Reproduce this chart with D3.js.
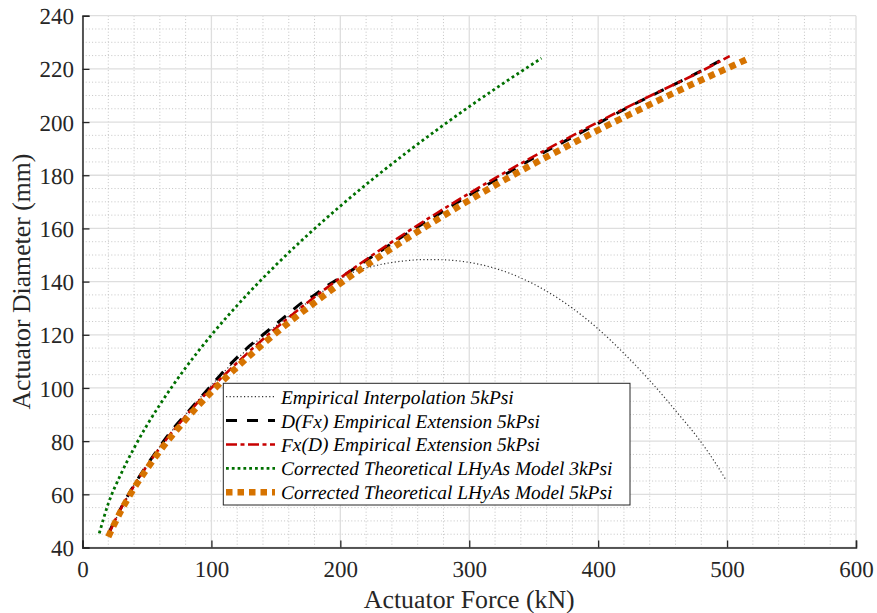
<!DOCTYPE html>
<html>
<head>
<meta charset="utf-8">
<script src="https://cdn.jsdelivr.net/npm/d3@7"></script>
<style>
  html, body { margin: 0; padding: 0; background: #fff; }
  svg text { text-rendering: geometricPrecision; }
</style>
</head>
<body>
<svg id="chart" width="877" height="613"></svg>
<script>
// ---- Data ----
const xTicks = [0, 100, 200, 300, 400, 500, 600];
const yTicks = [40, 60, 80, 100, 120, 140, 160, 180, 200, 220, 240];
const xLabel = "Actuator Force (kN)";
const yLabel = "Actuator Diameter (mm)";

const seriesNames = [
  "Empirical Interpolation 5kPsi",
  "D(Fx) Empirical Extension 5kPsi",
  "Fx(D) Empirical Extension 5kPsi",
  "Corrected Theoretical LHyAs Model 3kPsi",
  "Corrected Theoretical LHyAs Model 5kPsi"
];

// Empirical Interpolation 5kPsi: [force kN, diameter mm]
const empInterp = [
  [20,45],[40,63.5],[60,78],[80,90],[100,101],[120,111],[140,119.5],[160,127],
  [180,134],[200,141],[210,143.5],[230,146.3],[250,147.8],[265,148.3],[280,148.2],
  [300,147.2],[320,145],[340,141.4],[360,136.4],[380,130],[400,122.2],[420,113],
  [440,102.8],[460,91.5],[480,79.5],[490,72.5],[499,65.5]
];
// D(Fx) Empirical Extension 5kPsi
const dOfFx = [
  [20,45],[30,55],[40,63.5],[50,71],[60,78],[70,84.5],[80,90],[90,95.5],[100,101],
  [110,106.5],[120,111.5],[130,116],[140,120],[150,124],[160,128],[170,132],
  [180,135],[190,138.5],[200,141.5],[225,149.5],[250,157.5],[275,165],[300,172.5],
  [325,179.5],[350,186.5],[375,193],[400,199.5],[425,206],[450,212],[475,218],[497,223.7]
];
// Fx(D) Empirical Extension 5kPsi
const fxOfD = [
  [20,44.7],[30,54.8],[40,63.2],[50,70.7],[60,77.5],[80,89.4],[100,100],[120,109.5],
  [140,118.3],[160,126.5],[180,134.2],[200,141.4],[225,150],[250,158.1],[275,165.8],
  [300,173.2],[325,180.3],[350,187.1],[375,193.6],[400,200],[425,206.2],[450,212.1],
  [475,217.9],[502,224.8]
];
// Corrected Theoretical LHyAs Model 3kPsi
const theo3k = [
  [13,45.3],[20,56.5],[30,67.8],[40,77.4],[50,86],[60,93.7],[80,107.6],[100,119.9],
  [125,133.7],[150,146.2],[175,157.7],[200,168.4],[225,178.5],[250,188],[275,197.1],
  [300,205.8],[325,214.1],[356,224]
];
// Corrected Theoretical LHyAs Model 5kPsi
const theo5k = [
  [20,44],[30,53.9],[40,62.3],[50,69.6],[60,76.3],[80,88.1],[100,98.5],[120,107.9],
  [140,116.5],[160,124.6],[180,132.1],[200,139.3],[225,147.7],[250,155.7],[275,163.3],
  [300,170.6],[325,177.6],[350,184.3],[375,190.7],[400,197],[425,203],[450,208.9],
  [475,214.7],[500,220.2],[518,224.2]
];

// ---- Layout ----
const FONT = '"Liberation Serif", "Times New Roman", serif';
const svg = d3.select("#chart");
const L = 82.5, R = 856, T = 15.7, B = 547.5;
const x = d3.scaleLinear().domain([0, 600]).range([L, R]);
const y = d3.scaleLinear().domain([40, 240]).range([B, T]);

// minor grid
const g = svg.append("g");
g.selectAll(".mgx").data(d3.range(0, 601, 20).filter(v => v % 100 !== 0)).enter()
  .append("line").attr("x1", d => x(d)).attr("x2", d => x(d)).attr("y1", T).attr("y2", B)
  .attr("stroke", "#c4c4c4").attr("stroke-width", 1).attr("stroke-dasharray", "1,2.2");
g.selectAll(".mgy").data(d3.range(40, 241, 5).filter(v => v % 20 !== 0)).enter()
  .append("line").attr("y1", d => y(d)).attr("y2", d => y(d)).attr("x1", L).attr("x2", R)
  .attr("stroke", "#c4c4c4").attr("stroke-width", 1).attr("stroke-dasharray", "1,2.2");
// major grid
g.selectAll(".gx").data(xTicks).enter()
  .append("line").attr("x1", d => x(d)).attr("x2", d => x(d)).attr("y1", T).attr("y2", B)
  .attr("stroke", "#dedede").attr("stroke-width", 1.3);
g.selectAll(".gy").data(yTicks).enter()
  .append("line").attr("y1", d => y(d)).attr("y2", d => y(d)).attr("x1", L).attr("x2", R)
  .attr("stroke", "#dedede").attr("stroke-width", 1.3);

// ---- Lines ----
const line = d3.line().x(d => x(d[0])).y(d => y(d[1])).curve(d3.curveMonotoneX);
const styles = [
  { data: empInterp, color: "#333333", width: 1.2, dash: "1.2,2.4" },
  { data: dOfFx,     color: "#000000", width: 3,   dash: "11,10" },
  { data: fxOfD,     color: "#c80000", width: 2.6, dash: "11,3.5,4,3.5" },
  { data: theo3k,    color: "#007000", width: 2.8, dash: "2.8,3" },
  { data: theo5k,    color: "#d67300", width: 6.5, dash: "6.5,5" }
];
const lg = svg.append("g");
styles.forEach(s => {
  lg.append("path").datum(s.data).attr("d", line)
    .attr("fill", "none").attr("stroke", s.color).attr("stroke-width", s.width)
    .attr("stroke-dasharray", s.dash);
});

// ---- Axes ----
const axColor = "#262626";
const xAxis = d3.axisBottom(x).tickValues(xTicks).tickSize(-7).tickFormat(d3.format("d"));
const yAxis = d3.axisLeft(y).tickValues(yTicks).tickSize(-7).tickFormat(d3.format("d"));
const xa = svg.append("g").attr("transform", `translate(0,${B})`).call(xAxis);
const ya = svg.append("g").attr("transform", `translate(${L},0)`).call(yAxis);
[xa, ya].forEach(a => {
  a.attr("font-family", null).attr("font-size", null);
  a.select(".domain").attr("stroke", axColor).attr("stroke-width", 1.5);
  a.selectAll(".tick line").attr("stroke", axColor).attr("stroke-width", 1.3);
  a.selectAll(".tick text").attr("fill", axColor).style("font-size", "23px");
});
xa.selectAll(".tick text").attr("y", 0).attr("dy", null)
  .attr("transform", "translate(0,29.5) rotate(-0.01)");
ya.selectAll(".tick text").attr("x", -8.5).attr("dy", "0.35em")
  .attr("transform", "rotate(-0.01)");

// axis titles
const xt = svg.append("text").attr("x", (L + R) / 2).attr("y", 608).attr("text-anchor", "middle")
  .attr("transform", `rotate(-0.01,${(L + R) / 2},608)`)
  .attr("fill", axColor).style("font-size", "25.8px").text(xLabel);
const yt = svg.append("text").attr("transform", `translate(29.5,${(T + B) / 2}) rotate(-90)`)
  .attr("fill", axColor).attr("text-anchor", "middle").style("font-size", "25.8px").text(yLabel);

// ---- Legend ----
const leg = svg.append("g");
leg.append("rect").attr("x", 223.3).attr("y", 383.3).attr("width", 406.7).attr("height", 121.7)
  .attr("fill", "#fff").attr("stroke", axColor).attr("stroke-width", 1);
const legTexts = [];
styles.forEach((s, i) => {
  const ly = 396.7 + i * 23.9;
  const ty = 404 + i * 23.75;
  leg.append("line").attr("x1", 226).attr("x2", 275).attr("y1", ly).attr("y2", ly)
    .attr("stroke", s.color).attr("stroke-width", s.width).attr("stroke-dasharray", s.dash);
  legTexts.push(leg.append("text").attr("x", 281).attr("y", ty)
    .attr("transform", `rotate(-0.01,281,${ty})`)
    .style("font-size", "19.4px").style("font-style", "italic").attr("fill", "#000")
    .text(seriesNames[i]));
});

svg.selectAll("text").style("font-family", FONT);

// fit title sizes to the widths measured on the reference
function fit(sel, base, target) {
  const w = sel.node().getComputedTextLength();
  if (w > 0) return base * target / w;
  return base;
}
xt.style("font-size", Math.min(27, fit(xt, 25.8, 211)) + "px");
yt.style("font-size", Math.min(27, fit(yt, 25.8, 256)) + "px");
</script>
</body>
</html>
